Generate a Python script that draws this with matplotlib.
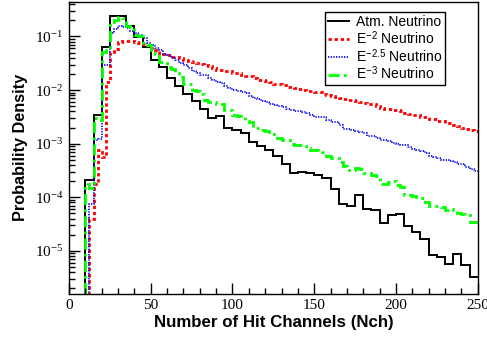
import numpy as np
import matplotlib
matplotlib.use("Agg")
import matplotlib.pyplot as plt
from matplotlib.ticker import FixedLocator, FuncFormatter, LogLocator, NullFormatter

# ---- data ----
atm_edges = np.arange(0, 255, 5)
atm = [1e-9, 1e-9, 2.06e-4, 3.5e-3, 0.064, 0.243, 0.243, 0.158, 0.098, 0.064,
       0.037, 0.027, 0.0171, 0.0118, 8.6e-3, 6.2e-3, 4.5e-3, 3.0e-3, 3.28e-3, 1.96e-3,
       1.78e-3, 1.6e-3, 1.07e-3, 8.9e-4, 7.7e-4, 6.0e-4, 4.2e-4, 2.8e-4, 2.94e-4, 2.8e-4,
       2.63e-4, 2.3e-4, 1.4e-4, 7.6e-5, 7.0e-5, 1.11e-4, 6.1e-5, 5.8e-5, 3.3e-5, 4.57e-5,
       4.9e-5, 2.97e-5, 2.24e-5, 1.63e-5, 8.2e-6, 7.8e-6, 5.7e-6, 8.8e-6, 5.5e-6, 3.2e-6]

sig_edges = np.arange(0, 252.5, 2.5)
e2 = [1e-9, 1e-9, 1e-9, 1e-9,
      1e-9, 4.0e-5, 1.8e-4, 7.5e-4, 5.6e-4, 0.0141, 0.052, 0.058, 0.080, 0.083,
      0.082, 0.084, 0.079, 0.076, 0.073, 0.070, 0.060, 0.055, 0.050, 0.048,
      0.045, 0.042, 0.041, 0.040, 0.037, 0.035, 0.034, 0.032, 0.031, 0.029,
      0.028, 0.026, 0.024, 0.024, 0.023, 0.0228, 0.021, 0.0204, 0.019, 0.018,
      0.018, 0.017, 0.0155, 0.0153, 0.0145, 0.014, 0.0132, 0.013, 0.0122, 0.0116,
      0.0115, 0.011, 0.0105, 0.0102, 0.0098, 0.0095, 0.0093, 0.0091, 0.0086, 0.0081,
      0.0079, 0.0075, 0.0071, 0.0069, 0.0066, 0.0064, 0.0062, 0.0061, 0.0058, 0.0055,
      0.0055, 0.0050, 0.0047, 0.0045, 0.0044, 0.0043, 0.0042, 0.0041, 0.0038, 0.0036,
      0.0035, 0.0034, 0.0032, 0.0031, 0.0029, 0.0029, 0.0027, 0.0026, 0.0024, 0.0024,
      0.0022, 0.0021, 0.0020, 0.0019, 0.0018, 0.0017]
e25 = [1e-9, 1e-9, 1e-9, 1e-9,
       1e-9, 7.4e-5, 1.15e-3, 1.2e-3, 0.029, 0.030, 0.114, 0.135, 0.156, 0.150,
       0.141, 0.127, 0.114, 0.106, 0.092, 0.075, 0.069, 0.060, 0.055, 0.048,
       0.045, 0.039, 0.036, 0.032, 0.030, 0.026, 0.023, 0.021, 0.019, 0.019,
       0.0165, 0.0153, 0.0140, 0.0136, 0.012, 0.0107, 0.0102, 0.0095, 0.0093, 0.0088,
       0.0078, 0.0070, 0.0068, 0.0062, 0.0060, 0.0055, 0.0052, 0.0050, 0.0048, 0.0045,
       0.0042, 0.0041, 0.0040, 0.0039, 0.0037, 0.0034, 0.0032, 0.0032, 0.0031, 0.0028,
       0.0025, 0.0025, 0.0022, 0.0019, 0.0019, 0.0018, 0.0017, 0.00164, 0.0016, 0.00142,
       0.0014, 0.0013, 0.00115, 0.00115, 0.0011, 0.00105, 0.0010, 0.00095, 0.00093, 0.00088,
       0.0008, 0.00075, 0.00074, 0.00068, 0.00058, 0.00056, 0.00054, 0.0005, 0.00049, 0.00048,
       0.00045, 0.00042, 0.00041, 0.00037, 0.00033, 0.00031]
e3 = [1e-9, 1e-9, 1e-9, 1e-9,
      1.74e-4, 1.5e-4, 3.06e-3, 2.8e-3, 0.0515, 0.055, 0.19, 0.20, 0.23, 0.22,
      0.156, 0.15, 0.106, 0.10, 0.074, 0.07, 0.049, 0.047, 0.034, 0.032,
      0.027, 0.025, 0.021, 0.0176, 0.0132, 0.013, 0.0099, 0.0095, 0.0086, 0.0065,
      0.006, 0.006, 0.0056, 0.0055, 0.0042, 0.0042, 0.0035, 0.0033, 0.0031, 0.0027,
      0.0025, 0.0020, 0.0020, 0.00177, 0.0017, 0.00154, 0.00154, 0.0013, 0.00115, 0.00115,
      0.0010, 0.00093, 0.00093, 0.0009, 0.00082, 0.00075, 0.00075, 0.00074, 0.0007, 0.0006,
      0.00053, 0.00053, 0.00045, 0.00039, 0.00032, 0.00032, 0.00035, 0.00033, 0.00028, 0.00028,
      0.000256, 0.00025, 0.00018, 0.00018, 0.00019, 0.0002, 0.00017, 0.000153, 0.00011, 0.000109,
      0.000105, 0.0001, 9.5e-5, 8e-5, 7e-5, 7e-5, 6.8e-5, 6.5e-5, 5.8e-5, 6e-5,
      5.8e-5, 5e-5, 4.8e-5, 4.6e-5, 3.4e-5, 3.4e-5]

labels = ["Atm. Neutrino", r"E$^{\mathsf{-2}}$ Neutrino", r"E$^{\mathsf{-2.5}}$ Neutrino", r"E$^{\mathsf{-3}}$ Neutrino"]
xticks = [0, 50, 100, 150, 200, 250]

assert len(atm) == len(atm_edges) - 1, len(atm)
assert len(e2) == len(sig_edges) - 1, len(e2)
assert len(e25) == len(sig_edges) - 1, len(e25)
assert len(e3) == len(sig_edges) - 1, len(e3)

plt.rcParams['font.family'] = 'Liberation Serif'
plt.rcParams['mathtext.fontset'] = 'custom'
plt.rcParams['mathtext.rm'] = 'Liberation Serif'
plt.rcParams['mathtext.it'] = 'Liberation Serif:italic'
plt.rcParams['mathtext.sf'] = 'Liberation Sans'
plt.rcParams['axes.unicode_minus'] = True

fig = plt.figure(figsize=(4.87, 3.37), dpi=100)
ax = fig.add_axes([69/487, 1-293.5/337, (477.7-69)/487, (293.5-2)/337])

ax.stairs(atm, atm_edges, baseline=None, color='black', lw=1.4, label=labels[0])
ax.stairs(e2, sig_edges, baseline=None, color='#ff0000', lw=2.0, ls=(0, (1.2, 1.0)), label=labels[1])
ax.stairs(e25, sig_edges, baseline=None, color='#0000ff', lw=1.2, ls=(0, (0.8, 0.8)), label=labels[2])
ax.stairs(e3, sig_edges, baseline=None, color='#00ff00', lw=2.0, ls=(0, (4, 1.5, 1, 1.5)), label=labels[3])

ax.set_yscale('log')
ax.set_xlim(0, 250)
ax.set_ylim(1.6e-6, 0.44)

ax.xaxis.set_major_locator(FixedLocator(xticks))
ax.xaxis.set_minor_locator(FixedLocator(np.arange(0, 251, 10)))
ax.yaxis.set_major_locator(LogLocator(base=10, numticks=20))
ax.yaxis.set_minor_locator(LogLocator(base=10, subs=np.arange(2, 10), numticks=20))
ax.yaxis.set_minor_formatter(NullFormatter())
ax.yaxis.set_major_formatter(FuncFormatter(lambda v, p: r"10$^{\mathregular{%d}}$" % int(round(np.log10(v)))))

ax.tick_params(which='both', direction='in', top=False, right=False)
ax.tick_params(which='major', length=8, width=1)
ax.tick_params(which='minor', length=4, width=1)
ax.tick_params(axis='x', labelsize=11, pad=4)
ax.tick_params(axis='y', labelsize=11, pad=4)

for s in ax.spines.values():
    s.set_linewidth(1.0)

ax.set_xlabel("Number of Hit Channels (Nch)", fontfamily='Liberation Sans', fontweight='bold', fontsize=12.2, labelpad=2)
ax.set_ylabel("Probability Density", fontfamily='Liberation Sans', fontweight='bold', fontsize=11.7, labelpad=5)

leg = ax.legend(loc='upper left', bbox_to_anchor=((325-69)/408.7, 1-(12-2)/291.5), frameon=True, fancybox=False,
                edgecolor='black', framealpha=1, prop={'family': 'Liberation Sans', 'size': 10.0},
                handlelength=1.55, handletextpad=0.45, borderpad=0.2, labelspacing=0.0, borderaxespad=0)
leg.get_frame().set_linewidth(1.0)

fig.savefig("out.png", dpi=100)
